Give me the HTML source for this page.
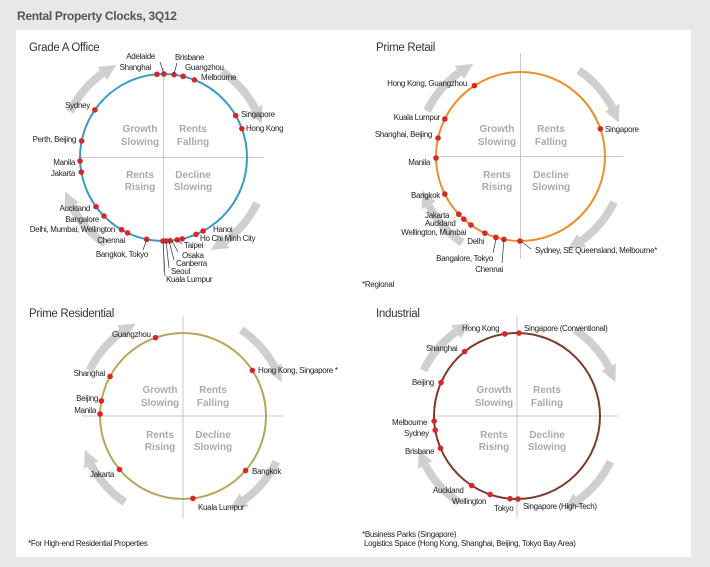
<!DOCTYPE html>
<html><head><meta charset="utf-8"><style>
html,body{margin:0;padding:0;background:#e6e8ea;}
svg{display:block;font-family:"Liberation Sans",sans-serif;}
.l{font-size:8px;fill:#222;letter-spacing:-0.3px}
.e{text-anchor:end}
.q{font-size:10px;fill:#aaa;font-weight:bold;text-anchor:middle}
.t{font-size:11.5px;fill:#333;letter-spacing:-0.3px}
.ld{stroke:#333;stroke-width:0.7}
</style></head><body>
<svg id="s" width="710" height="567" viewBox="0 0 710 567">
<rect width="710" height="567" fill="#e6e8ea"/>
<text x="17" y="20" style="font-size:12px;font-weight:bold;fill:#555;letter-spacing:-0.3px">Rental Property Clocks, 3Q12</text>
<rect x="16" y="30" width="675" height="527" fill="#fff"/>
<g id="g"></g>

<text class="t" x="29" y="51">Grade A Office</text>
<text class="t" x="376" y="51">Prime Retail</text>
<text class="t" x="29" y="317">Prime Residential</text>
<text class="t" x="376" y="317">Industrial</text>

<!-- quadrant labels -->
<g>
<text class="q" x="140" y="132">Growth</text><text class="q" x="140" y="145">Slowing</text>
<text class="q" x="193" y="132">Rents</text><text class="q" x="193" y="145">Falling</text>
<text class="q" x="140" y="178">Rents</text><text class="q" x="140" y="190">Rising</text>
<text class="q" x="193" y="178">Decline</text><text class="q" x="193" y="190">Slowing</text>

<text class="q" x="497" y="132">Growth</text><text class="q" x="497" y="145">Slowing</text>
<text class="q" x="551" y="132">Rents</text><text class="q" x="551" y="145">Falling</text>
<text class="q" x="497" y="178">Rents</text><text class="q" x="497" y="190">Rising</text>
<text class="q" x="551" y="178">Decline</text><text class="q" x="551" y="190">Slowing</text>

<text class="q" x="160" y="393">Growth</text><text class="q" x="160" y="406">Slowing</text>
<text class="q" x="213" y="393">Rents</text><text class="q" x="213" y="406">Falling</text>
<text class="q" x="160" y="438">Rents</text><text class="q" x="160" y="450">Rising</text>
<text class="q" x="213" y="438">Decline</text><text class="q" x="213" y="450">Slowing</text>

<text class="q" x="494" y="393">Growth</text><text class="q" x="494" y="406">Slowing</text>
<text class="q" x="547" y="393">Rents</text><text class="q" x="547" y="406">Falling</text>
<text class="q" x="494" y="438">Rents</text><text class="q" x="494" y="450">Rising</text>
<text class="q" x="547" y="438">Decline</text><text class="q" x="547" y="450">Slowing</text>
</g>

<!-- Q1 labels -->
<g class="l">
<text class="l e" x="155" y="59">Adelaide</text>
<text class="l e" x="151" y="70">Shanghai</text>
<text class="l" x="175" y="60">Brisbane</text>
<text class="l" x="185" y="70">Guangzhou</text>
<text class="l" x="201" y="80">Melbourne</text>
<text class="l" x="241" y="117">Singapore</text>
<text class="l" x="246" y="131">Hong Kong</text>
<text class="l e" x="90" y="108">Sydney</text>
<text class="l e" x="76" y="142">Perth, Beijing</text>
<text class="l e" x="75" y="165">Manila</text>
<text class="l e" x="75" y="176">Jakarta</text>
<text class="l e" x="90" y="211">Auckland</text>
<text class="l e" x="99" y="222">Bangalore</text>
<text class="l e" x="115" y="232">Delhi, Mumbai, Wellington</text>
<text class="l e" x="125" y="243">Chennai</text>
<text class="l e" x="148" y="257">Bangkok, Tokyo</text>
<text class="l" x="213" y="232">Hanoi</text>
<text class="l" x="200" y="241">Ho Chi Minh City</text>
<text class="l" x="184" y="248">Taipei</text>
<text class="l" x="182" y="258">Osaka</text>
<text class="l" x="176" y="266">Canberra</text>
<text class="l" x="171" y="274">Seoul</text>
<text class="l" x="166" y="282">Kuala Lumpur</text>
</g>
<g class="ld">
<line x1="164" y1="74" x2="160" y2="62"/><line x1="174" y1="74" x2="177" y2="63"/>
<line x1="147" y1="239" x2="143" y2="250"/>
<line x1="163" y1="241" x2="165" y2="276"/><line x1="166" y1="241" x2="169" y2="268"/>
<line x1="169" y1="241" x2="174" y2="260"/><line x1="172" y1="241" x2="178" y2="252"/>
<line x1="177" y1="240" x2="182" y2="244"/>
</g>

<!-- Q2 labels -->
<g>
<text class="l e" x="467" y="86">Hong Kong, Guangzhou</text>
<text class="l e" x="440" y="120">Kuala Lumpur</text>
<text class="l e" x="432" y="137">Shanghai, Beijing</text>
<text class="l e" x="430" y="165">Manila</text>
<text class="l e" x="440" y="198">Bangkok</text>
<text class="l" x="425" y="218">Jakarta</text>
<text class="l" x="425" y="226">Auckland</text>
<text class="l e" x="466" y="235">Wellington, Mumbai</text>
<text class="l e" x="484" y="244">Delhi</text>
<text class="l e" x="493" y="261">Bangalore, Tokyo</text>
<text class="l e" x="503" y="272">Chennai</text>
<text class="l" x="535" y="253">Sydney, SE Queensland, Melbourne*</text>
<text class="l" x="605" y="132">Singapore</text>
<text class="l" x="362" y="287">*Regional</text>
</g>
<g class="ld">
<line x1="496" y1="239" x2="493" y2="253"/><line x1="504" y1="240" x2="502" y2="263"/>
<line x1="522" y1="242" x2="531" y2="249"/>
</g>

<!-- Q3 labels -->
<g>
<text class="l" x="112" y="337">Guangzhou</text>
<text class="l e" x="105" y="376">Shanghai</text>
<text class="l e" x="98" y="401">Beijing</text>
<text class="l e" x="96" y="413">Manila</text>
<text class="l" x="90" y="477">Jakarta</text>
<text class="l" x="198" y="510">Kuala Lumpur</text>
<text class="l" x="252" y="474">Bangkok</text>
<text class="l" x="258" y="373">Hong Kong, Singapore *</text>
<text class="l" x="28" y="546">*For High-end Residential Properties</text>
</g>

<!-- Q4 labels -->
<g>
<text class="l" x="462" y="331">Hong Kong</text>
<text class="l" x="524" y="331">Singapore (Conventional)</text>
<text class="l" x="426" y="351">Shanghai</text>
<text class="l" x="412" y="385">Beijing</text>
<text class="l" x="392" y="425">Melbourne</text>
<text class="l" x="404" y="436">Sydney</text>
<text class="l" x="405" y="454">Brisbane</text>
<text class="l" x="433" y="493">Auckland</text>
<text class="l" x="452" y="504">Wellington</text>
<text class="l" x="494" y="511">Tokyo</text>
<text class="l" x="523" y="509">Singapore (High-Tech)</text>
<text class="l" x="362" y="537">*Business Parks (Singapore)</text>
<text class="l" x="364" y="546">Logistics Space (Hong Kong, Shanghai, Beijing, Tokyo Bay Area)</text>
</g>
</svg>
<script>
var NS="http://www.w3.org/2000/svg",g=document.getElementById("g");
function el(t,a){var e=document.createElementNS(NS,t);for(var k in a)e.setAttribute(k,a[k]);g.appendChild(e);return e;}
var Q=[
 {cx:163.5,cy:157.5,r:83.5,c:"#3a9cc0",h:[80,264],v:[68,272],
  d:[[157,75],[164,75],[174,75],[183,77],[194,81],[235,116],[241,129],[95,110],[82,141],[81,161],[82,172],[97,206],[105,215],[122,229],[128,232],[147,238],[163,240],[166,240],[170,240],[177,239],[182,238],[195,232],[202,229]]},
 {cx:520.5,cy:156.5,r:84.5,c:"#e8902c",h:[436,623],v:[53,259],
  d:[[474,85],[445,119],[438,138],[436,158],[445,194],[459,214],[464,219],[471,225],[485,233],[496,237],[504,239],[520,241],[600,129]]},
 {cx:183,cy:416,r:83,c:"#b3a85a",h:[82,283],v:[316,518],
  d:[[156,339],[111,377],[102,401],[101,414],[120,469],[193,499],[246,471],[253,370]]},
 {cx:517,cy:416,r:83,c:"#7c3b2f",h:[434,618],v:[316,518],
  d:[[505,335],[519,334],[465,352],[442,383],[435,421],[436,430],[441,448],[472,485],[490,495],[510,499],[518,499]]}
];
function pt(q,R,a){a=a*Math.PI/180;return [q.cx+R*Math.sin(a),q.cy-R*Math.cos(a)];}
Q.forEach(function(q){
 var R=104;
 [[34,62],[116,144],[214,242],[296,324]].forEach(function(s){
  var p0=pt(q,R,s[0]),p1=pt(q,R,s[1]);
  el("path",{d:"M"+p0+" A"+R+" "+R+" 0 0 1 "+p1,fill:"none",stroke:"#cfcfcf","stroke-width":8});
  var tip=pt(q,R,s[1]+9),a=pt(q,R-8,s[1]),b=pt(q,R+8,s[1]);
  el("polygon",{points:tip+" "+a+" "+b,fill:"#cfcfcf"});
 });
 el("line",{x1:q.h[0],y1:q.cy,x2:q.h[1],y2:q.cy,stroke:"#c8c8c8","stroke-width":1});
 el("line",{x1:q.cx,y1:q.v[0],x2:q.cx,y2:q.v[1],stroke:"#c8c8c8","stroke-width":1});
 el("circle",{cx:q.cx,cy:q.cy,r:q.r,fill:"none",stroke:q.c,"stroke-width":2});
 q.d.forEach(function(p){
  var dx=p[0]-q.cx,dy=p[1]-q.cy,L=Math.sqrt(dx*dx+dy*dy);
  el("circle",{cx:q.cx+dx/L*q.r,cy:q.cy+dy/L*q.r,r:2.8,fill:"#d8262b"});
 });
});
</script>
</body></html>
